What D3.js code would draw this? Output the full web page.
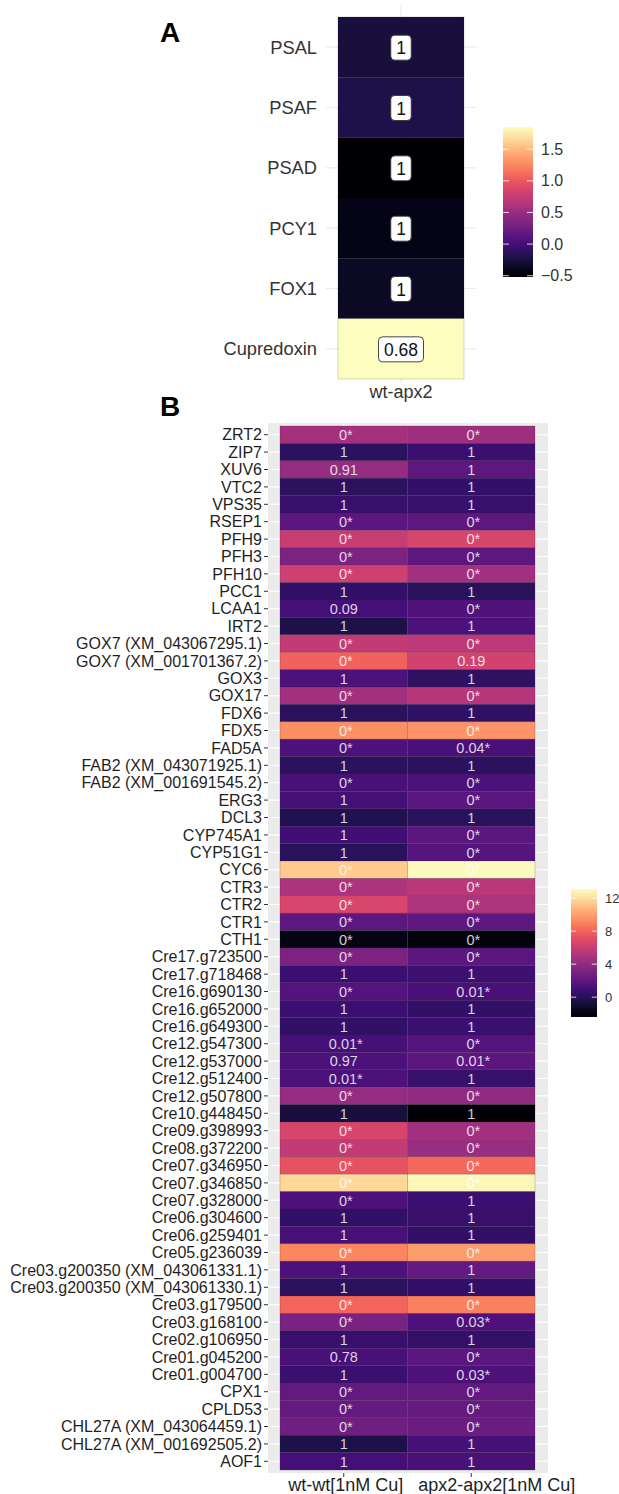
<!DOCTYPE html>
<html>
<head>
<meta charset="utf-8">
<script src="https://cdn.jsdelivr.net/npm/d3@7"></script>
<style>
  html, body { margin: 0; padding: 0; background: #fff; }
  svg { display: block; font-family: "Liberation Sans", Arial, Helvetica, sans-serif; }
</style>
</head>
<body>
<svg id="chart" width="619" height="1494"></svg>
<script>
// ---------------- Panel A data ----------------
const genesA = ["PSAL", "PSAF", "PSAD", "PCY1", "FOX1", "Cupredoxin"];
const colA = ["wt-apx2"];
const valuesA = [-0.26, -0.21, -0.52, -0.42, -0.36, 1.85];
const labelsA = ["1", "1", "1", "1", "1", "0.68"];
const legendATicks = [-0.5, 0.0, 0.5, 1.0, 1.5];
const legendADomain = [-0.52, 1.85];

// ---------------- Panel B data ----------------
const genesB = [
  "ZRT2", "ZIP7", "XUV6", "VTC2", "VPS35", "RSEP1", "PFH9", "PFH3", "PFH10", "PCC1",
  "LCAA1", "IRT2", "GOX7 (XM_043067295.1)", "GOX7 (XM_001701367.2)", "GOX3", "GOX17",
  "FDX6", "FDX5", "FAD5A", "FAB2 (XM_043071925.1)", "FAB2 (XM_001691545.2)", "ERG3",
  "DCL3", "CYP745A1", "CYP51G1", "CYC6", "CTR3", "CTR2", "CTR1", "CTH1",
  "Cre17.g723500", "Cre17.g718468", "Cre16.g690130", "Cre16.g652000", "Cre16.g649300",
  "Cre12.g547300", "Cre12.g537000", "Cre12.g512400", "Cre12.g507800", "Cre10.g448450",
  "Cre09.g398993", "Cre08.g372200", "Cre07.g346950", "Cre07.g346850", "Cre07.g328000",
  "Cre06.g304600", "Cre06.g259401", "Cre05.g236039", "Cre03.g200350 (XM_043061331.1)",
  "Cre03.g200350 (XM_043061330.1)", "Cre03.g179500", "Cre03.g168100", "Cre02.g106950",
  "Cre01.g045200", "Cre01.g004700", "CPX1", "CPLD53", "CHL27A (XM_043064459.1)",
  "CHL27A (XM_001692505.2)", "AOF1"
];
const colsB = ["wt-wt[1nM Cu]", "apx2-apx2[1nM Cu]"];
const valuesWT = [
  4.7, 0.2, 4.1, 0.2, 0.6, 1.9, 6.0, 3.2, 6.2, 0.4,
  1.0, -0.4, 5.8, 8.0, 1.3, 4.6, 0.1, 9.5, 1.3, 0.2,
  1.2, 1.0, -0.2, 0.9, 0.1, 11.4, 5.0, 6.7, 2.0, -1.8,
  3.2, 0.7, 1.6, 0.7, 0.4, 1.1, 1.3, 1.3, 4.1, -0.7,
  6.6, 5.8, 7.3, 11.8, 1.4, 0.4, 1.2, 9.2, 1.3, 0.2,
  8.1, 3.1, 0.6, 1.2, 0.7, 2.2, 2.3, 2.7, -0.4, 1.0
];
const valuesAPX = [
  4.5, 0.7, 2.0, 0.4, 0.6, 2.0, 6.6, 2.0, 4.6, 0.1,
  1.5, 1.3, 5.6, 6.4, 0.3, 5.3, 0.3, 9.6, 1.2, 0.2,
  1.3, 1.9, 0.1, 1.9, 1.7, 13.0, 5.5, 5.1, 2.0, -2.0,
  1.9, 0.8, 1.2, 0.4, 0.7, 1.6, 1.9, 0.6, 4.0, -2.4,
  4.6, 4.3, 8.2, 12.8, 0.7, 0.6, 0.4, 9.9, 2.2, 0.4,
  9.0, 1.4, 0.5, 1.9, 1.4, 2.2, 2.3, 2.5, 1.1, 1.2
];
const labelsWT = [
  "0*", "1", "0.91", "1", "1", "0*", "0*", "0*", "0*", "1",
  "0.09", "1", "0*", "0*", "1", "0*", "1", "0*", "0*", "1",
  "0*", "1", "1", "1", "1", "0*", "0*", "0*", "0*", "0*",
  "0*", "1", "0*", "1", "1", "0.01*", "0.97", "0.01*", "0*", "1",
  "0*", "0*", "0*", "0*", "0*", "1", "1", "0*", "1", "1",
  "0*", "0*", "1", "0.78", "1", "0*", "0*", "0*", "1", "1"
];
const labelsAPX = [
  "0*", "1", "1", "1", "1", "0*", "0*", "0*", "0*", "1",
  "0*", "1", "0*", "0.19", "1", "0*", "1", "0*", "0.04*", "1",
  "0*", "0*", "1", "0*", "0*", "0*", "0*", "0*", "0*", "0*",
  "0*", "1", "0.01*", "1", "1", "0*", "0.01*", "1", "0*", "1",
  "0*", "0*", "0*", "0*", "1", "1", "1", "0*", "1", "1",
  "0*", "0.03*", "1", "0*", "0.03*", "0*", "0*", "0*", "1", "1"
];
const legendBTicks = [0, 4, 8, 12];
const legendBDomain = [-2.4, 13.1];

// ---------------- drawing ----------------
const svg = d3.select("#chart");
const defs = svg.append("defs");
const textDark = "#1f1f1f";

function addGradient(id) {
  const g = defs.append("linearGradient").attr("id", id)
    .attr("x1", 0).attr("y1", 1).attr("x2", 0).attr("y2", 0);
  d3.range(0, 1.0001, 0.05).forEach(t => {
    g.append("stop").attr("offset", t).attr("stop-color", d3.interpolateMagma(t));
  });
}
addGradient("gradA");
addGradient("gradB");

function colorbar(x, y0, y1, w, domain, ticks, fmt, fontSize, id) {
  const s = d3.scaleLinear().domain(domain).range([y1, y0]);
  const g = svg.append("g");
  g.append("rect").attr("x", x).attr("y", y0).attr("width", w).attr("height", y1 - y0)
    .attr("fill", `url(#${id})`);
  ticks.forEach(t => {
    const yy = s(t);
    g.append("line").attr("x1", x).attr("x2", x + w * 0.2).attr("y1", yy).attr("y2", yy)
      .attr("stroke", "#fff").attr("stroke-opacity", 0.8).attr("stroke-width", 1);
    g.append("line").attr("x1", x + w * 0.8).attr("x2", x + w).attr("y1", yy).attr("y2", yy)
      .attr("stroke", "#fff").attr("stroke-opacity", 0.8).attr("stroke-width", 1);
    g.append("text").attr("x", x + w + 8).attr("y", yy).attr("dy", "0.35em")
      .attr("font-size", fontSize).attr("fill", "#333").text(fmt(t));
  });
}

// ===== Panel A =====
const colorA = d3.scaleSequential(d3.interpolateMagma).domain(legendADomain);
const xA = d3.scaleBand().domain(colA).range([338, 464]);
const yA = d3.scaleBand().domain(genesA).range([17, 379]);

svg.append("text").attr("x", 160).attr("y", 42).attr("font-size", 28).attr("font-weight", "bold")
  .attr("fill", "#000").text("A");

const gA = svg.append("g");
genesA.forEach(gn => {
  const cy = yA(gn) + yA.bandwidth() / 2;
  gA.append("line").attr("x1", 326).attr("x2", 476).attr("y1", cy).attr("y2", cy)
    .attr("stroke", "#ebebeb").attr("stroke-width", 1.2);
});
colA.forEach(c => {
  const cx = xA(c) + xA.bandwidth() / 2;
  gA.append("line").attr("x1", cx).attr("x2", cx).attr("y1", 5).attr("y2", 383)
    .attr("stroke", "#ebebeb").attr("stroke-width", 1.2);
});

genesA.forEach((gn, i) => {
  gA.append("rect").attr("x", xA(colA[0])).attr("y", yA(gn))
    .attr("width", xA.bandwidth()).attr("height", yA.bandwidth())
    .attr("fill", colorA(valuesA[i]))
    .attr("stroke", "rgba(0,0,0,0.2)").attr("stroke-width", 0.8);
});
genesA.forEach((gn, i) => {
  const cx = xA(colA[0]) + xA.bandwidth() / 2;
  const cy = yA(gn) + yA.bandwidth() / 2;
  const lbl = labelsA[i];
  const tw = lbl.length * 9.5 - (lbl.includes(".") ? 4 : 0);
  const bw = tw + 11, bh = 25;
  gA.append("rect").attr("x", cx - bw / 2).attr("y", cy - bh / 2 + 0.5)
    .attr("width", bw).attr("height", bh).attr("rx", 4).attr("ry", 4)
    .attr("fill", "#fff").attr("stroke", "#333").attr("stroke-width", 0.9);
  gA.append("text").attr("x", cx).attr("y", cy + 1).attr("dy", "0.35em")
    .attr("text-anchor", "middle").attr("font-size", 17.5).attr("fill", "#111").text(lbl);
});
genesA.forEach(gn => {
  gA.append("text").attr("x", 317).attr("y", yA(gn) + yA.bandwidth() / 2).attr("dy", "0.35em")
    .attr("text-anchor", "end").attr("font-size", 18.3).attr("fill", "#333").text(gn);
});
colA.forEach(c => {
  gA.append("text").attr("x", xA(c) + xA.bandwidth() / 2).attr("y", 392).attr("dy", "0.35em")
    .attr("text-anchor", "middle").attr("font-size", 18).attr("fill", "#333").text(c);
});
colorbar(503, 127, 277, 30, legendADomain, legendATicks, d3.format(".1f"), 16, "gradA");

// ===== Panel B =====
const colorB = d3.scaleSequential(d3.interpolateMagma).domain(legendBDomain);
const xB = d3.scaleBand().domain(colsB).range([280, 535]);
const yB = d3.scaleBand().domain(genesB).range([426, 1470]);

svg.append("text").attr("x", 160).attr("y", 416).attr("font-size", 28).attr("font-weight", "bold")
  .attr("fill", "#000").text("B");

const gB = svg.append("g");
gB.append("rect").attr("x", 268).attr("y", 423).attr("width", 280).attr("height", 1050)
  .attr("fill", "#ebebeb");
genesB.forEach(gn => {
  const cy = yB(gn) + yB.bandwidth() / 2;
  gB.append("line").attr("x1", 268).attr("x2", 548).attr("y1", cy).attr("y2", cy)
    .attr("stroke", "#fff").attr("stroke-width", 1.1);
});
colsB.forEach(c => {
  const cx = xB(c) + xB.bandwidth() / 2;
  gB.append("line").attr("x1", cx).attr("x2", cx).attr("y1", 423).attr("y2", 1473)
    .attr("stroke", "#fff").attr("stroke-width", 1.1);
});

const cellsB = [];
genesB.forEach((gn, i) => {
  cellsB.push({ gene: gn, col: colsB[0], v: valuesWT[i], lab: labelsWT[i] });
  cellsB.push({ gene: gn, col: colsB[1], v: valuesAPX[i], lab: labelsAPX[i] });
});
gB.selectAll("rect.cell").data(cellsB).enter().append("rect").attr("class", "cell")
  .attr("x", d => xB(d.col)).attr("y", d => yB(d.gene))
  .attr("width", xB.bandwidth()).attr("height", yB.bandwidth())
  .attr("fill", d => colorB(d.v))
  .attr("stroke", "rgba(60,30,60,0.35)").attr("stroke-width", 0.6);
gB.selectAll("text.cell").data(cellsB).enter().append("text").attr("class", "cell")
  .attr("x", d => xB(d.col) + xB.bandwidth() / 2 + (d.lab.endsWith("*") ? 2 : 0))
  .attr("y", d => yB(d.gene) + yB.bandwidth() / 2).attr("dy", "0.36em")
  .attr("text-anchor", "middle").attr("font-size", 14.5).attr("fill", "#fff")
  .attr("fill-opacity", 0.82).text(d => d.lab);

genesB.forEach(gn => {
  const cy = yB(gn) + yB.bandwidth() / 2;
  gB.append("line").attr("x1", 264).attr("x2", 268).attr("y1", cy).attr("y2", cy)
    .attr("stroke", "#333").attr("stroke-width", 1);
  gB.append("text").attr("x", 262).attr("y", cy).attr("dy", "0.36em")
    .attr("text-anchor", "end").attr("font-size", 16).attr("fill", textDark).text(gn);
});
// x axis: labels centred on ticks, nudged right to avoid overlap (as in the figure)
let prevEnd = -Infinity;
colsB.forEach(c => {
  const cx = xB(c) + xB.bandwidth() / 2;
  gB.append("line").attr("x1", cx).attr("x2", cx).attr("y1", 1473).attr("y2", 1477)
    .attr("stroke", "#333").attr("stroke-width", 1);
  const t = gB.append("text").attr("y", 1485).attr("dy", "0.35em")
    .attr("text-anchor", "start").attr("font-size", 18).attr("fill", textDark).text(c);
  const w = t.node().getComputedTextLength();
  const start = Math.max(cx - w / 2 + 2, prevEnd + 15);
  t.attr("x", start);
  prevEnd = start + w;
});
colorbar(571, 889, 1017, 26, legendBDomain, legendBTicks, d3.format("d"), 13, "gradB");
</script>
</body>
</html>
